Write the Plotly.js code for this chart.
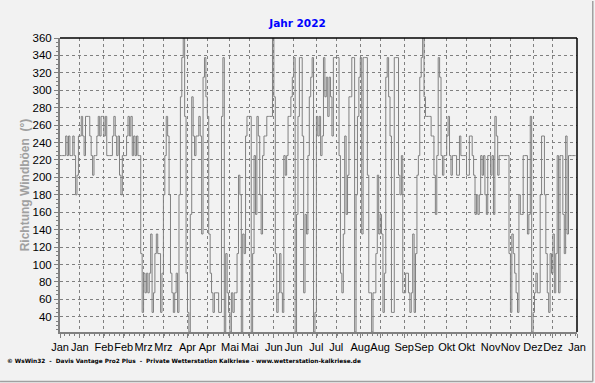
<!DOCTYPE html>
<html>
<head>
<meta charset="utf-8">
<script src="https://cdn.plot.ly/plotly-3.0.1.min.js"></script>
<style>html,body{margin:0;padding:0;background:#f2f2f2;}#chart{width:595px;height:383px;}</style>
</head>
<body>
<div id="chart"></div>
<script>
// Daily direction of the strongest gust (degrees), 1 Jan 2022 .. 31 Dec 2022
const startDate = '2022-01-01';
const gustDirJan = [225,225,225,225,247.5,225,247.5,225,225,247.5,225,180,202.5,247.5,247.5,270,247.5,225,270,270,270,247.5,225,202.5,225,225,247.5,270,247.5,270,270];
const gustDirFeb = [247.5,270,225,225,225,225,247.5,270,247.5,225,247.5,202.5,180,225,225,225,247.5,270,247.5,270,225,247.5,225,247.5,225,225,112.5,45];
const gustDirMar = [90,67.5,90,67.5,90,135,45,67.5,112.5,135,112.5,112.5,45,90,180,225,270,247.5,180,90,67.5,45,67.5,90,45,180,292.5,337.5,360,270,90];
const gustDirApr = [45,22.5,157.5,292.5,247.5,225,247.5,247.5,270,247.5,135,315,337.5,292.5,270,135,90,67.5,45,67.5,67.5,67.5,45,45,270,337.5,22.5,112.5,67.5,45];
const gustDirMai = [22.5,67.5,45,67.5,67.5,112.5,202.5,180,22.5,135,112.5,247.5,270,270,270,22.5,112.5,225,157.5,270,247.5,180,135,225,247.5,247.5,270,270,270,270,360];
const gustDirJun = [292.5,112.5,45,67.5,112.5,67.5,45,225,202.5,225,270,270,292.5,315,337.5,22.5,157.5,270,337.5,337.5,247.5,67.5,157.5,135,225,292.5,315,337.5,22.5,45];
const gustDirJul = [270,247.5,270,225,247.5,337.5,292.5,315,270,315,292.5,247.5,337.5,337.5,337.5,337.5,225,90,67.5,135,247.5,157.5,202.5,292.5,292.5,337.5,337.5,22.5,180,270,315];
const gustDirAug = [337.5,135,337.5,337.5,337.5,202.5,67.5,67.5,22.5,67.5,67.5,112.5,202.5,135,157.5,135,45,90,315,337.5,292.5,247.5,45,45,337.5,337.5,337.5,202.5,180,225,67.5];
const gustDirSep = [67.5,90,90,67.5,45,67.5,135,45,112.5,202.5,225,315,337.5,360,292.5,270,270,270,270,247.5,247.5,202.5,157.5,225,337.5,315,225,202.5,225,225];
const gustDirOkt = [247.5,270,225,202.5,225,225,225,202.5,202.5,247.5,225,225,225,225,202.5,202.5,247.5,247.5,225,202.5,157.5,180,157.5,180,225,202.5,225,180,157.5,225,225];
const gustDirNov = [202.5,225,157.5,270,247.5,202.5,225,225,225,225,225,225,225,112.5,45,135,112.5,90,67.5,45,180,157.5,157.5,225,225,225,135,157.5,270,22.5];
const gustDirDez = [45,67.5,90,67.5,67.5,180,247.5,247.5,180,112.5,67.5,45,112.5,90,135,67.5,112.5,225,67.5,225,225,157.5,112.5,247.5,135,225,225,225,225,225,225];
const gustDir = [].concat(gustDirJan, gustDirFeb, gustDirMar, gustDirApr, gustDirMai, gustDirJun,
  gustDirJul, gustDirAug, gustDirSep, gustDirOkt, gustDirNov, gustDirDez);

const tickDates = ['2022-01-01','2022-01-15','2022-02-01','2022-02-15','2022-03-01','2022-03-15','2022-04-01','2022-04-15',
  '2022-05-01','2022-05-15','2022-06-01','2022-06-15','2022-07-01','2022-07-15','2022-08-01','2022-08-15',
  '2022-09-01','2022-09-15','2022-10-01','2022-10-15','2022-11-01','2022-11-15','2022-12-01','2022-12-15','2023-01-01'];
const tickLabels = ['Jan','Jan','Feb','Feb','Mrz','Mrz','Apr','Apr','Mai','Mai','Jun','Jun','Jul','Jul','Aug','Aug',
  'Sep','Sep','Okt','Okt','Nov','Nov','Dez','Dez','Jan'];
const yTicks = [40,60,80,100,120,140,160,180,200,220,240,260,280,300,320,340,360];

function dayToDate(i) {
  const d = new Date(Date.UTC(2022, 0, 1) + i * 86400000);
  return d.toISOString().slice(0, 10);
}
const dates = gustDir.map((v, i) => dayToDate(i));

const trace = {
  x: dates, y: gustDir, type: 'scatter', mode: 'lines',
  line: {shape: 'hv', color: '#808080', width: 1},
  hoverinfo: 'x+y'
};

const gridCol = '#808080';
const layout = {
  width: 595, height: 383,
  margin: {l: 60, r: 18, t: 38, b: 51},
  paper_bgcolor: '#f2f2f2', plot_bgcolor: '#f2f2f2',
  showlegend: false,
  font: {family: 'Liberation Sans, Arial, sans-serif', size: 11, color: '#000'},
  title: {text: '<b>Jahr 2022</b>', font: {family: 'DejaVu Sans, Verdana, sans-serif', size: 10.5, color: '#0000ff'},
          x: 0.5, xanchor: 'center', y: 0.94, yanchor: 'middle'},
  xaxis: {
    type: 'date', range: ['2022-01-01', '2023-01-01'],
    tickmode: 'array', tickvals: tickDates, ticktext: tickLabels, tickangle: 0,
    showgrid: true, gridcolor: gridCol, griddash: '3px,3px', gridwidth: 1,
    showline: true, linecolor: '#808080', linewidth: 2,
    ticks: 'outside', ticklen: 4, tickcolor: '#808080', tickwidth: 1,
    tickfont: {size: 11, color: '#000'},
    minor: {dtick: 86400000 * 3.5, tick0: '2022-01-01', ticks: 'outside', ticklen: 2, tickcolor: '#808080', showgrid: false},
    zeroline: false, fixedrange: true
  },
  yaxis: {
    range: [22.5, 360],
    tickmode: 'array', tickvals: yTicks,
    showgrid: true, gridcolor: gridCol, griddash: '3px,3px', gridwidth: 1,
    showline: true, linecolor: '#808080', linewidth: 2,
    ticks: 'outside', ticklen: 4, tickcolor: '#808080', tickwidth: 1,
    minor: {dtick: 5, ticks: 'outside', ticklen: 2, tickcolor: '#808080', showgrid: false},
    tickfont: {size: 11.5, color: '#000'},
    title: {text: '<b>Richtung Windböen  (°)</b>', font: {size: 12, color: '#a0a0a0'}, standoff: 0},
    zeroline: false, fixedrange: true
  },
  shapes: [
    {type: 'line', xref: 'paper', yref: 'paper', x0: 0, x1: 1, y0: 1, y1: 1, line: {color: '#000', width: 1.5}},
    {type: 'line', xref: 'paper', yref: 'paper', x0: 1, x1: 1, y0: 0, y1: 1, line: {color: '#000', width: 1.5}},
    {type: 'line', xref: 'paper', yref: 'paper', x0: 1.0305, x1: 1.0305, y0: -0.168, y1: 1.126, line: {color: '#a0a0a0', width: 1.5}},
    {type: 'line', xref: 'paper', yref: 'paper', x0: -0.116, x1: 1.0305, y0: -0.168, y1: -0.168, line: {color: '#a0a0a0', width: 1.5}}
  ],
  annotations: [
    {text: '<b>© WsWin32  -  Davis Vantage Pro2 Plus  -  Private Wetterstation Kalkriese - www.wetterstation-kalkriese.de</b>',
     xref: 'paper', yref: 'paper', x: -0.107, y: -0.1, xanchor: 'left', yanchor: 'middle', showarrow: false,
     font: {family: 'DejaVu Sans, sans-serif', size: 5.8, color: '#000'}}
  ]
};

Plotly.newPlot('chart', [trace], layout, {displayModeBar: false, staticPlot: true});
</script>
</body>
</html>
